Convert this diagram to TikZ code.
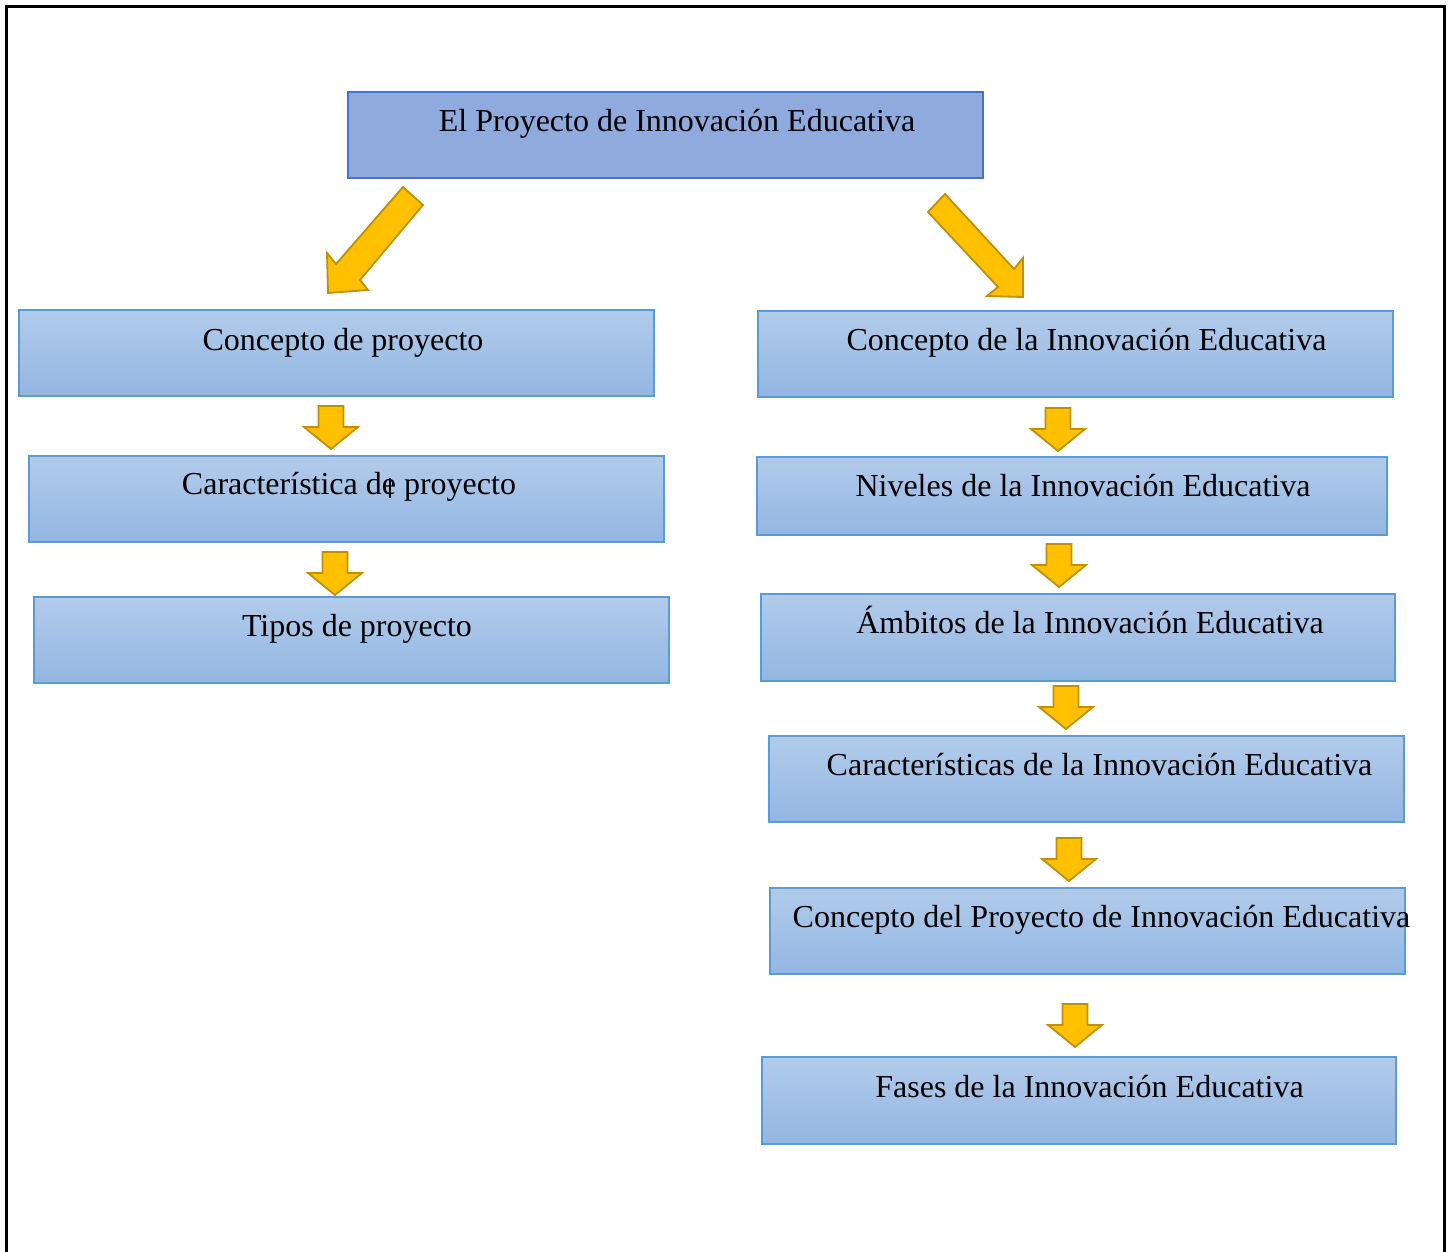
\documentclass[tikz,border=0pt]{standalone}
\usepackage{fontspec}
\setmainfont{Liberation Serif}
\definecolor{topfill}{HTML}{8FAADC}
\definecolor{topline}{HTML}{4472C4}
\definecolor{gtop}{HTML}{B2CBEA}
\definecolor{gbot}{HTML}{93B6E2}
\definecolor{gline}{HTML}{5B9BD5}
\definecolor{arrfill}{HTML}{FFC000}
\definecolor{arrline}{HTML}{BF9000}
\tikzset{
  x=1pt, y=-1pt,
  boxbase/.style={draw, rectangle, inner sep=0pt, minimum width=635pt, minimum height=86pt, line width=1.1pt},
  gbox/.style={boxbase, draw=gline, top color=gtop, bottom color=gbot},
  tbox/.style={boxbase, draw=topline, fill=topfill},
  txt/.style={anchor=base, inner sep=0pt, font=\fontsize{32}{38}\selectfont},
  blockarrow/.style={fill=arrfill, draw=arrline, line width=1.8pt, line join=miter},
  darrow/.pic={
    \path[blockarrow] (-12.5,0) -- (12.5,0) -- (12.5,21) -- (27,21) -- (0,43) -- (-27,21) -- (-12.5,21) -- cycle;
  }
}
\begin{document}
\begin{tikzpicture}
\useasboundingbox (0,0) rectangle (1454,1251);
% page frame
\draw[line width=3pt, black] (6,1260) -- (6,6) -- (1444,6) -- (1444,1260);

% boxes
\node[tbox] (top) at (665.5,135) {};
\node[txt] (top-t) at (677,131) {El Proyecto de Innovación Educativa};

\node[gbox] (l1) at (336.5,353) {};
\node[txt] (l1-t) at (343,350) {Concepto de proyecto};
\node[gbox] (l2) at (346.5,499) {};
\node[txt] (l2-t) at (349,494) {Característica d\rlap{\kern0.22em\rule[-0.12em]{0.075em}{0.62em}}e proyecto};
\node[gbox] (l3) at (351.5,640) {};
\node[txt] (l3-t) at (357,636) {Tipos de proyecto};

\node[gbox] (r1) at (1075.5,354) {};
\node[txt] (r1-t) at (1086.5,350) {Concepto de la Innovación Educativa};
\node[gbox, minimum width=630pt, minimum height=78pt] (r2) at (1072,496) {};
\node[txt] (r2-t) at (1083,496) {Niveles de la Innovación Educativa};
\node[gbox, minimum width=634pt, minimum height=87pt] (r3) at (1078,637.5) {};
\node[txt] (r3-t) at (1090,633) {Ámbitos de la Innovación Educativa};
\node[gbox] (r4) at (1086.5,779) {};
\node[txt] (r4-t) at (1099.5,775) {Características de la Innovación Educativa};
\node[gbox] (r5) at (1087.5,931) {};
\node[txt] (r5-t) at (1101.5,927) {Concepto del Proyecto de Innovación Educativa};
\node[gbox, minimum width=634pt, minimum height=87pt] (r6) at (1079,1100.5) {};
\node[txt] (r6-t) at (1089.5,1097) {Fases de la Innovación Educativa};

% big diagonal arrows
\path[blockarrow] (403,187) -- (423,205) -- (360,280) -- (368,290) -- (328,293) -- (327,253) -- (336,264) -- cycle;
\path[blockarrow] (945,194) -- (1014,269) -- (1023,258) -- (1023,297) -- (987,296) -- (998,287) -- (928,212) -- cycle;

% small down arrows
\pic at (331,406) {darrow};
\pic at (335,552) {darrow};
\pic at (1058,408) {darrow};
\pic at (1059,544) {darrow};
\pic at (1066,686) {darrow};
\pic at (1069,838) {darrow};
\pic at (1075,1004) {darrow};
\end{tikzpicture}
\end{document}
